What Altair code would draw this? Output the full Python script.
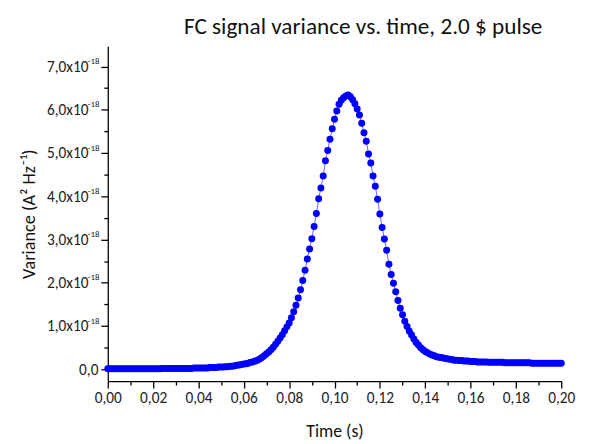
import altair as alt
import pandas as pd

# Variance values in units of 1e-18 A^2/Hz, sampled every 1 ms from 0.000 s to 0.200 s
variance_e18 = [
    0.01, 0.01, 0.01, 0.01, 0.01, 0.01, 0.01, 0.01, 0.01, 0.01,
    0.01, 0.01, 0.01, 0.01, 0.01, 0.01, 0.01, 0.01, 0.01, 0.01,
    0.01, 0.01, 0.01, 0.01, 0.02, 0.02, 0.02, 0.02, 0.02, 0.02,
    0.02, 0.02, 0.02, 0.02, 0.02, 0.02, 0.02, 0.02, 0.03, 0.03,
    0.03, 0.03, 0.03, 0.03, 0.03, 0.04, 0.04, 0.04, 0.04, 0.05,
    0.05, 0.05, 0.06, 0.06, 0.07, 0.07, 0.08, 0.09, 0.10, 0.11,
    0.12, 0.13, 0.14, 0.16, 0.17, 0.19, 0.21, 0.24, 0.27, 0.31,
    0.36, 0.40, 0.45, 0.51, 0.58, 0.65, 0.72, 0.80, 0.89, 0.98,
    1.07, 1.19, 1.33, 1.48, 1.65, 1.84, 2.05, 2.29, 2.55, 2.78,
    3.02, 3.30, 3.60, 3.94, 4.19, 4.47, 4.82, 5.06, 5.32, 5.56,
    5.78, 5.97, 6.13, 6.22, 6.28, 6.32, 6.34, 6.30, 6.23, 6.14,
    6.02, 5.88, 5.69, 5.47, 5.27, 4.98, 4.77, 4.47, 4.23, 3.93,
    3.59, 3.28, 3.01, 2.75, 2.43, 2.19, 1.99, 1.79, 1.59, 1.41,
    1.26, 1.11, 0.99, 0.88, 0.79, 0.70, 0.62, 0.56, 0.50, 0.45,
    0.41, 0.38, 0.35, 0.33, 0.31, 0.29, 0.28, 0.27, 0.26, 0.25,
    0.24, 0.23, 0.22, 0.21, 0.21, 0.20, 0.20, 0.19, 0.19, 0.19,
    0.18, 0.18, 0.18, 0.17, 0.17, 0.17, 0.17, 0.17, 0.16, 0.16,
    0.16, 0.16, 0.16, 0.16, 0.16, 0.15, 0.15, 0.15, 0.15, 0.15,
    0.15, 0.15, 0.15, 0.15, 0.15, 0.15, 0.15, 0.14, 0.14, 0.14,
    0.14, 0.14, 0.14, 0.14, 0.14, 0.14, 0.14, 0.14, 0.14, 0.14, 0.14,
]
time_s = [round(i * 0.001, 3) for i in range(len(variance_e18))]

x_ticks = [round(i * 0.01, 2) for i in range(21)]
y_ticks = [i * 0.5 for i in range(15)]
exp_ticks = [1, 2, 3, 4, 5, 6, 7]

df = pd.DataFrame({"t": time_s, "v": variance_e18})

FONT = "Carlito, Lato, 'Open Sans', sans-serif"
x_scale = alt.Scale(domain=[0, 0.2], nice=False, zero=False)
y_scale = alt.Scale(domain=[-0.274, 7.47], nice=False, zero=False)

x_enc = alt.X(
    "t:Q",
    scale=x_scale,
    axis=alt.Axis(
        title="Time (s)",
        values=x_ticks,
        labelExpr="round(datum.value*100) % 2 == 0 ? replace(format(datum.value, '.2f'), '.', ',') : ''",
        tickSize={"condition": {"test": "round(datum.value*100) % 2 == 0", "value": 7}, "value": 4},
        labelFlush=False,
        labelPadding=3,
        titlePadding=17,
        titleFontSize=18,
    ),
)
y_main = alt.Y(
    "v:Q",
    scale=y_scale,
    axis=alt.Axis(
        orient="left",
        title="Variance (A² Hz⁻¹)",
        values=y_ticks,
        labelExpr="datum.value == 0 ? '0,0' : (datum.value % 1 == 0 ? replace(format(datum.value, '.1f'), '.', ',') + 'x10' : '')",
        tickSize={"condition": {"test": "datum.value % 1 == 0", "value": 7}, "value": 4},
        labelPadding={"condition": {"test": "datum.value == 0", "value": 3}, "value": 13},
        titlePadding=8,
        titleFontSize=18.5,
    ),
)
y_exp = alt.Y(
    "v:Q",
    scale=y_scale,
    axis=alt.Axis(
        orient="left",
        title=None,
        values=exp_ticks,
        labelExpr="'-18'",
        domain=False,
        ticks=False,
        tickSize=0,
        labelPadding=9,
        labelFontSize=9,
        labelOffset=-6,
    ),
)

line = alt.Chart(df).mark_line(color="#0000ff", strokeWidth=0.6).encode(x=x_enc, y=y_main)
points = alt.Chart(df).mark_circle(color="#0000ff", size=50, opacity=1).encode(x=x_enc, y=y_exp)

chart = (
    alt.layer(line, points)
    .resolve_axis(y="independent")
    .properties(
        width=459,
        height=339,
        title=alt.TitleParams(
            "FC signal variance vs. time, 2.0 $ pulse",
            font=FONT,
            fontSize=23.5,
            fontWeight="normal",
            color="#111111",
            anchor="middle",
            dx=29,
            offset=8,
        ),
        autosize="none",
        padding={"left": 101, "top": 36, "right": 20, "bottom": 61},
    )
    .configure_view(stroke=None)
    .configure_axis(
        grid=False,
        domainColor="#000000",
        domainWidth=1.3,
        tickColor="#000000",
        tickWidth=1.3,
        labelFont=FONT,
        labelFontSize=15.5,
        labelColor="#222222",
        titleFont=FONT,
        titleFontSize=17,
        titleFontWeight="normal",
        titleColor="#111111",
    )
)

chart.save("out.html", embed_options={"renderer": "svg", "actions": False})
